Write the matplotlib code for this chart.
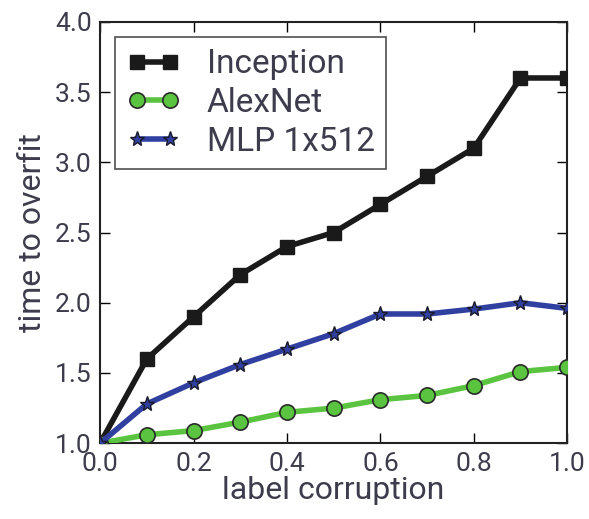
import matplotlib
matplotlib.use("Agg")
import matplotlib.pyplot as plt

x = [0.0, 0.1, 0.2, 0.3, 0.4, 0.5, 0.6, 0.7, 0.8, 0.9, 1.0]
inception = [1.0, 1.6, 1.9, 2.2, 2.4, 2.5, 2.7, 2.9, 3.1, 3.6, 3.6]
alexnet = [1.0, 1.06, 1.09, 1.15, 1.22, 1.25, 1.31, 1.34, 1.41, 1.51, 1.54]
mlp = [1.0, 1.28, 1.43, 1.56, 1.67, 1.78, 1.92, 1.92, 1.955, 2.0, 1.96]
xticks = [0.0, 0.2, 0.4, 0.6, 0.8, 1.0]
yticks = [1.0, 1.5, 2.0, 2.5, 3.0, 3.5, 4.0]

txt = '#3c3c4c'
plt.rcParams['font.family'] = ['Roboto', 'DejaVu Sans']

fig = plt.figure(figsize=(5.89, 5.19), dpi=100)
ax = fig.add_axes([0.170, 0.146, 0.793, 0.812])

ax.plot(x, inception, color='#1a1a1a', lw=4, marker='s', ms=10,
        mfc='#1a1a1a', mec='#1a1a1a', label='Inception', zorder=3)
ax.plot(x, alexnet, color='#5ac440', lw=4, marker='o', ms=11,
        mfc='#5ac440', mec='#2a2a2a', mew=1.2, label='AlexNet', zorder=3)
ax.plot(x, mlp, color='#3040a0', lw=4, marker='*', ms=11,
        mfc='#3040a0', mec='#1a1a2a', mew=1.0, label='MLP 1x512', zorder=3)

ax.set_xlim(0, 1.0)
ax.set_ylim(1.0, 4.0)
ax.set_xticks(xticks)
ax.set_yticks(yticks)
ax.set_xticklabels([f'{v:.1f}' for v in xticks])
ax.set_yticklabels([f'{v:.1f}' for v in yticks])
ax.tick_params(direction='in', top=True, right=True, length=7, width=1,
               labelsize=19, labelcolor=txt, pad=6)
for s in ax.spines.values():
    s.set_linewidth(1.5)
    s.set_color('#222222')

ax.set_xlabel('label corruption', fontsize=23, color=txt, labelpad=0)
ax.set_ylabel('time to overfit', fontsize=23, color=txt, labelpad=6)

leg = ax.legend(loc='upper left', fontsize=24, frameon=True, fancybox=False,
                edgecolor='#222222', borderpad=0.35, handlelength=1.6,
                handletextpad=0.8, labelspacing=0.2, numpoints=2,
                bbox_to_anchor=(0.0, 1.0), borderaxespad=0.45)
leg.get_frame().set_linewidth(1.2)
for t in leg.get_texts():
    t.set_color(txt)

fig.savefig('out.png', dpi=100)
